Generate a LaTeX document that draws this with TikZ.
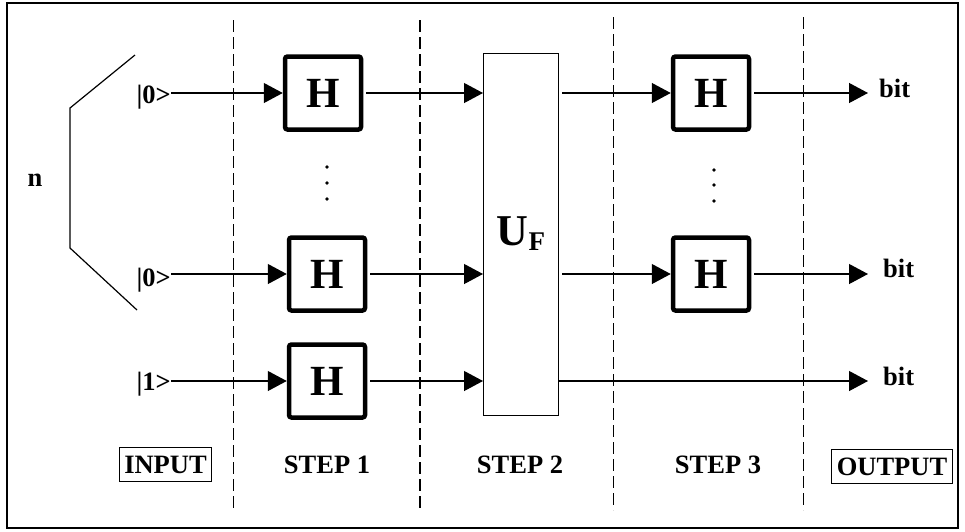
\documentclass[tikz,border=0pt]{standalone}
\usepackage{fontspec}
\setmainfont{Liberation Serif}
\usetikzlibrary{arrows.meta}
\begin{document}
\begin{tikzpicture}[x=1pt,y=-1pt,
  lbl/.style={font=\fontsize{26.5}{26.5}\selectfont\bfseries, inner sep=0pt},
  hbox/.style={draw, line width=4.5pt, rounded corners=2.5pt, minimum width=76pt, minimum height=73pt, inner sep=0pt, font=\fontsize{43}{43}\selectfont\bfseries},
  wire/.style={line width=1.2pt},
  arr/.style={wire, -{Triangle[length=19pt,width=20pt]}},
  divider/.style={dash pattern=on 12pt off 5pt, line width=1pt},
  tagbox/.style={lbl, draw, line width=1pt, minimum height=34pt},
  dot/.style={fill, circle, inner sep=0pt, minimum size=3.6pt}
]
\useasboundingbox (0,0) rectangle (965,531);
% frame
\draw[line width=2pt] (7,3) rectangle (958,528);
% dividers
\draw[divider] (233,20) -- (233,510);
\draw[divider, line width=2pt] (420,20) -- (420,510);
\draw[divider] (613,17) -- (613,510);
\draw[divider] (803,17) -- (803,510);
% brace and n
\draw[wire] (135,55) -- (70,108) -- (70,248) -- (137,310);
\node[lbl] (n) at (35,180) {n};
% inputs
\node[lbl, anchor=base east] (in1) at (171,103) {|0>};
\node[lbl, anchor=base east] (in2) at (171,286) {|0>};
\node[lbl, anchor=base east] (in3) at (171,390) {|1>};
% step 1 boxes
\node[hbox] (h1a) at (323,93) {H};
\node[hbox] (h1b) at (327,274) {H};
\node[hbox] (h1c) at (327,381) {H};
% U_F
\node[draw, line width=1pt, minimum width=75pt, minimum height=362pt, inner sep=0pt] (uf) at (521,234.5) {};
\node[anchor=base, inner sep=0pt, font=\bfseries] (uflbl) at (521,245) {{\fontsize{44}{44}\selectfont U}\raisebox{-5pt}{\fontsize{27}{27}\selectfont F}};
% step 3 boxes
\node[hbox] (h3a) at (711,93) {H};
\node[hbox] (h3b) at (711,274) {H};
% dots
\node[dot] (d1) at (327,167) {};
\node[dot] (d2) at (327,183) {};
\node[dot] (d3) at (327,199) {};
\node[dot] (d4) at (714,170) {};
\node[dot] (d5) at (714,185) {};
\node[dot] (d6) at (714,201) {};
% wires
\draw[arr] (in1.east |- h1a.west) -- (h1a.west);
\draw[arr] (in2.east |- h1b.west) -- (h1b.west);
\draw[arr] (in3.east |- h1c.west) -- (h1c.west);
\draw[arr, shorten <=3pt] (h1a.east) -- (uf.west |- h1a.east);
\draw[arr, shorten <=3pt] (h1b.east) -- (uf.west |- h1b.east);
\draw[arr, shorten <=3pt] (h1c.east) -- (uf.west |- h1c.east);
\draw[arr, shorten <=3pt] (uf.east |- h3a.west) -- (h3a.west);
\draw[arr, shorten <=3pt] (uf.east |- h3b.west) -- (h3b.west);
\coordinate (o1) at (868,93);
\coordinate (o2) at (868,274);
\coordinate (o3) at (868,381);
\draw[arr, shorten <=3pt] (h3a.east) -- (o1);
\draw[arr, shorten <=3pt] (h3b.east) -- (o2);
\draw[arr] (uf.east |- o3) -- (o3);
\node[lbl, anchor=base west] (b1) at (879,97) {bit};
\node[lbl, anchor=base west] (b2) at (883,277) {bit};
\node[lbl, anchor=base west] (b3) at (883,385) {bit};
% bottom labels
\node[tagbox, minimum width=92pt] (input) at (165.5,464.5) {INPUT};
\node[lbl, anchor=base] (s1) at (327,473) {STEP 1};
\node[lbl, anchor=base] (s2) at (520,473) {STEP 2};
\node[lbl, anchor=base] (s3) at (718,473) {STEP 3};
\node[tagbox, minimum width=121pt] (output) at (892,466.5) {OUTPUT};
\end{tikzpicture}
\end{document}
